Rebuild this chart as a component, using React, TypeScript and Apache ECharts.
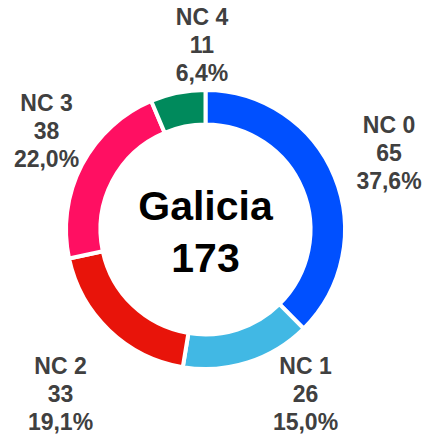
import React, { useEffect, useRef } from "react";
import * as echarts from "echarts";

const categories = ["NC 0", "NC 1", "NC 2", "NC 3", "NC 4"];
const values = [65, 26, 33, 38, 11];
const colors = ["#0050FF", "#41B8E4", "#E8140A", "#FF0F62", "#008A5C"];
const regionName = "Galicia";

// label centre offsets relative to the pie centre (layout only)
const labelOffsets: [number, number][] = [
  [183.5, -76.5],
  [100, 164.5],
  [-145, 164.5],
  [-159, -98.5],
  [-3.5, -184.5],
];

export default function App() {
  const ref = useRef<HTMLDivElement>(null);
  useEffect(() => {
    if (!ref.current) return;
    const chart = echarts.init(ref.current, undefined, { renderer: "svg" });
    const total = values.reduce((a, b) => a + b, 0);
    const cx = 205.5;
    const cy = 229.5;
    chart.setOption({
      animation: false,
      backgroundColor: "#ffffff",
      graphic: [
        {
          type: "text",
          x: cx,
          y: 232,
          style: {
            text: `${regionName}\n${total}`,
            fontFamily: "Liberation Sans, Arial, sans-serif",
            fontWeight: "bold",
            fontSize: 41,
            lineHeight: 52,
            fill: "#000000",
            textAlign: "center",
            textVerticalAlign: "middle",
          },
        },
      ],
      series: [
        {
          type: "pie",
          center: [cx, cy],
          radius: [105, 139.5],
          startAngle: 90,
          clockwise: true,
          avoidLabelOverlap: false,
          itemStyle: { borderColor: "#ffffff", borderWidth: 4 },
          emphasis: { disabled: true },
          label: {
            show: true,
            position: "outside",
            fontFamily: "Liberation Sans, Arial, sans-serif",
            fontWeight: "bold",
            fontSize: 23,
            lineHeight: 28,
            color: "#404040",
            align: "center",
            formatter: (p: any) =>
              `${p.name}\n${p.value}\n${((p.value / total) * 100)
                .toFixed(1)
                .replace(".", ",")}%`,
          },
          labelLine: { show: false },
          labelLayout: (p: any) => {
            const o = labelOffsets[p.dataIndex];
            return {
              x: cx + o[0],
              y: cy + o[1],
              align: "center",
              verticalAlign: "middle",
            };
          },
          data: categories.map((c, i) => ({
            name: c,
            value: values[i],
            itemStyle: { color: colors[i] },
          })),
        },
      ],
    });
    return () => chart.dispose();
  }, []);
  return (
    <div
      ref={ref}
      style={{ position: "fixed", left: 0, top: 0, width: 423, height: 435 }}
    />
  );
}
